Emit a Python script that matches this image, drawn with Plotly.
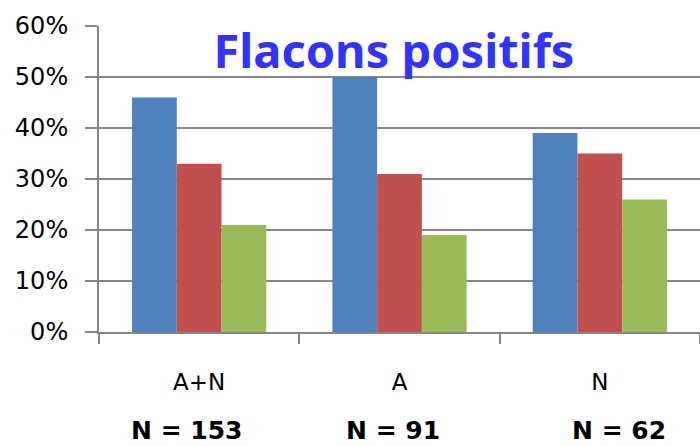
import plotly.graph_objects as go

# Categories, series values (percent) and sample sizes
categories = ["A+N", "A", "N"]
serie_bleue = [46, 50, 39]
serie_rouge = [33, 31, 35]
serie_verte = [21, 19, 26]
effectifs = ["N = 153", "N = 91", "N = 62"]
y_ticks = [0, 10, 20, 30, 40, 50, 60]
y_tick_labels = ["0%", "10%", "20%", "30%", "40%", "50%", "60%"]

grid_color = "#868686"
font_family = "DejaVu Sans"

fig = go.Figure()
for vals, color in [(serie_bleue, "#4F81BD"), (serie_rouge, "#C0504D"), (serie_verte, "#9BBB59")]:
    fig.add_trace(go.Bar(x=categories, y=vals, marker=dict(color=color, line=dict(width=0)),
                         showlegend=False, hoverinfo="skip"))

# Sample sizes written under each category
shifts = [-13, -7, 19]
for cat, txt, dx in zip(categories, effectifs, shifts):
    fig.add_annotation(x=cat, xref="x", y=-0.322, yref="paper", text=f"<b>{txt}</b>",
                       showarrow=False, xshift=dx, xanchor="center", yanchor="middle",
                       font=dict(family=font_family, size=25, color="black"))

fig.update_layout(
    width=700, height=446,
    margin=dict(l=99, r=0, t=26, b=114),
    paper_bgcolor="white", plot_bgcolor="white",
    barmode="group", bargap=0.33, bargroupgap=0,
    title=dict(text="<b>Flacons positifs</b>", x=394 / 700, xanchor="center",
               y=1 - 52 / 446, yanchor="middle",
               font=dict(family="Noto Sans", size=47, color="#3333FF")),
    xaxis=dict(
        showgrid=False, showline=True, linecolor=grid_color, linewidth=2,
        ticks="outside", tickson="boundaries", ticklen=10, tickwidth=2, tickcolor=grid_color,
        tickfont=dict(family=font_family, size=23, color="black"),
        ticklabelstandoff=28,
    ),
    yaxis=dict(
        range=[0, 60], tickvals=y_ticks, ticktext=y_tick_labels,
        showgrid=True, gridcolor=grid_color, gridwidth=2,
        showline=True, linecolor=grid_color, linewidth=2,
        ticks="outside", ticklen=12, tickwidth=2, tickcolor=grid_color,
        tickfont=dict(family=font_family, size=24, color="black"),
        ticklabelstandoff=12, zeroline=False,
    ),
)

fig.write_html("out.html")
